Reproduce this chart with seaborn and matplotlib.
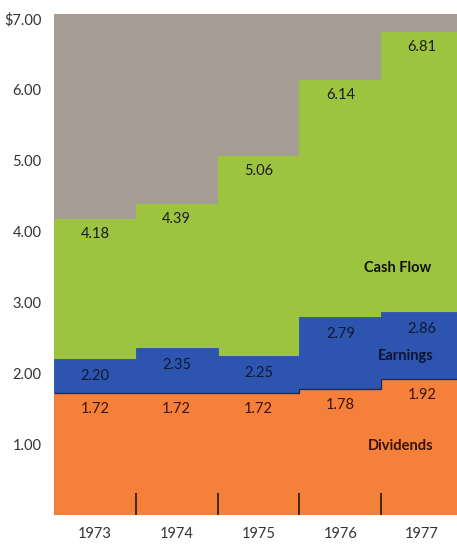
import numpy as np
import pandas as pd
import matplotlib
matplotlib.use("Agg")
import matplotlib.pyplot as plt
import seaborn as sns

# Per-share figures, 1973-1977
years = ["1973", "1974", "1975", "1976", "1977"]
dividends = [1.72, 1.72, 1.72, 1.78, 1.92]
earnings = [2.20, 2.35, 2.25, 2.79, 2.86]
cash_flow = [4.18, 4.39, 5.06, 6.14, 6.81]
y_ticks = [1, 2, 3, 4, 5, 6, 7]
y_tick_labels = ["1.00", "2.00", "3.00", "4.00", "5.00", "6.00", "$7.00"]

GRAY = "#a69e95"
GREEN = "#9dc43f"
BLUE = "#2d54ae"
ORANGE = "#f5803a"
TEXT = "#1c1c1c"

sns.set_theme(style="white")
plt.rcParams["font.family"] = ["Lato", "DejaVu Sans"]
plt.rcParams["text.parse_math"] = False

df = pd.DataFrame({"year": years, "Dividends": dividends,
                   "Earnings": earnings, "Cash Flow": cash_flow})

W, H = 457, 544
fig = plt.figure(figsize=(W / 100, H / 100), dpi=100)
ax = fig.add_axes([54 / W, (H - 515) / H, (W - 54) / W, (515 - 14) / H])
ax.set_facecolor(GRAY)

# Tallest series first so each shorter one sits on top of it
for col, color in [("Cash Flow", GREEN), ("Earnings", BLUE), ("Dividends", ORANGE)]:
    sns.barplot(data=df, x="year", y=col, color=color, width=1.0,
                edgecolor=color, linewidth=0.6, saturation=1, ax=ax)

# thin dark edge along the top of the dividends band
ax.stairs(dividends, edges=np.arange(len(years) + 1) - 0.5,
          color="#1d2550", linewidth=0.9, baseline=None)

# short year-divider marks at the base
ax.vlines(np.arange(len(years) - 1) + 0.5, 0, 0.31, color="#3a1d14", linewidth=1.3)

ax.set_xlim(-0.5, len(years) - 0.5 - 6 / 82)
ax.set_ylim(0, 7.07)
ax.set_yticks(y_ticks)
ax.set_yticklabels(y_tick_labels)
ax.set_xlabel("")
ax.set_ylabel("")
ax.tick_params(axis="y", length=0, pad=9, labelsize=10.5, labelcolor="#333333")
ax.tick_params(axis="x", length=0, pad=9, labelsize=10.5, labelcolor="#333333")
for s in ax.spines.values():
    s.set_visible(False)

# value labels
for i in range(len(years)):
    ax.text(i, cash_flow[i] - 0.21, f"{cash_flow[i]:.2f}", ha="center", va="center",
            fontsize=10.5, color=TEXT)
    ax.text(i, earnings[i] - 0.24, f"{earnings[i]:.2f}", ha="center", va="center",
            fontsize=10.5, color="#101830")
    ax.text(i, dividends[i] - 0.23, f"{dividends[i]:.2f}", ha="center", va="center",
            fontsize=10.5, color="#3a1208")

# series names
ax.text(3.70, 3.49, "Cash Flow", ha="center", va="center", fontsize=10.5,
        fontweight="bold", color="#111111")
ax.text(3.80, 2.24, "Earnings", ha="center", va="center", fontsize=10.5,
        fontweight="bold", color="#0c1530")
ax.text(3.74, 0.97, "Dividends", ha="center", va="center", fontsize=10.5,
        fontweight="bold", color="#3a1208")

fig.savefig("out.png", dpi=100, facecolor="white")
